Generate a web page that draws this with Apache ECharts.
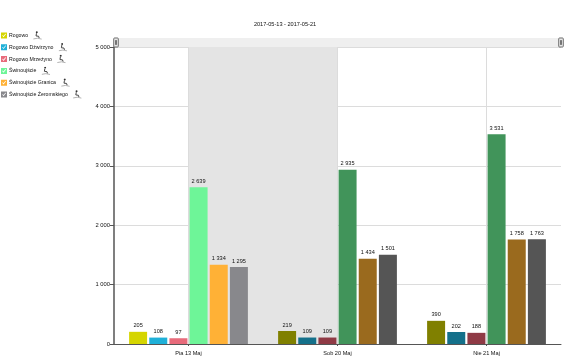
<!DOCTYPE html>
<html>
<head>
<meta charset="utf-8">
<style>
html, body { margin: 0; padding: 0; background: #fff; }
#chart { width: 570px; height: 357px; }
</style>
<script src="https://cdn.jsdelivr.net/npm/echarts@6/dist/echarts.min.js"></script>
</head>
<body>
<div id="chart"></div>
<script>
var titleText = '2017-05-13 - 2017-05-21';
var days = ['Pia 13 Maj', 'Sob 20 Maj', 'Nie 21 Maj'];
var names = ['Rogowo', 'Rogowo Dźwirzyno', 'Rogowo Mrzeżyno', 'Świnoujście', 'Świnoujście Granica', 'Świnoujście Żeromskiego'];

var rogowo = [205, 219, 390];
var dzwirzyno = [108, 109, 202];
var mrzezyno = [97, 109, 188];
var swinoujscie = [2639, 2935, 3531];
var granica = [1334, 1434, 1758];
var zeromskiego = [1295, 1501, 1763];
var values = [rogowo, dzwirzyno, mrzezyno, swinoujscie, granica, zeromskiego];

// pierwszy dzien jasny, weekend ciemniejszy
var lightColors = ['#d5d500', '#1fb0d8', '#e86b7b', '#6ef598', '#ffb136', '#88888c'];
var darkColors = ['#808000', '#14708a', '#8f3a45', '#41945a', '#9a6a1e', '#555555'];

var fontName = '"Liberation Sans", Arial, sans-serif';
var textColor = '#111';

function spaced(v) {
	return String(v).replace(/\B(?=(\d{3})+$)/g, ' ');
}

// ikonka rowerzysty w legendzie
var cyclist = 'data:image/svg+xml;charset=utf-8,' + encodeURIComponent(
	'<svg xmlns="http://www.w3.org/2000/svg" width="12" height="12" viewBox="0 0 12 12">' +
	'<circle cx="5" cy="1.6" r="1.3" fill="#333"/>' +
	'<path d="M4.6 3 L4 6.6 L7.4 7 L8.2 9.4" fill="none" stroke="#333" stroke-width="1.2"/>' +
	'<path d="M0.5 10.6 Q6 8.6 11.5 10.8" fill="none" stroke="#999" stroke-width="1"/>' +
	'</svg>');

var series = names.map(function (name, s) {
	return {
		name: name,
		type: 'bar',
		barWidth: 18,
		barGap: '12%',
		itemStyle: { color: lightColors[s] },
		label: {
			show: true,
			position: 'top',
			distance: 3,
			fontSize: 5.6,
			fontFamily: fontName,
			color: textColor,
			formatter: function (p) { return spaced(p.value); }
		},
		data: values[s].map(function (v, d) {
			return { value: v, itemStyle: { color: d === 0 ? lightColors[s] : darkColors[s] } };
		})
	};
});

var option = {
	animation: false,
	backgroundColor: '#fff',
	title: {
		text: titleText,
		left: 280,
		top: 16,
		textAlign: 'center',
		textStyle: { fontSize: 5.6, fontWeight: 'normal', color: textColor, fontFamily: fontName }
	},
	legend: {
		orient: 'vertical',
		left: 1,
		top: 31,
		padding: 0,
		itemWidth: 6,
		itemHeight: 6,
		itemGap: 2.8,
		selectedMode: false,
		// kwadrat z wycietym ptaszkiem
		icon: 'path://M0 0H10V10H0ZM2 5L4.2 8L8.4 2.6L7.2 2L4.2 6L3 4.4Z',
		formatter: function (name) { return '{t|' + name + '}{i|}'; },
		textStyle: {
			fontSize: 5.2,
			fontFamily: fontName,
			color: textColor,
			rich: {
				t: { fontSize: 5.2, fontFamily: fontName, color: textColor, padding: [0, 5, 0, -3] },
				i: { width: 9, height: 9, backgroundColor: { image: cyclist } }
			}
		},
		data: names
	},
	grid: { left: 114, right: 9, top: 47, bottom: 13 },
	dataZoom: [{
		type: 'slider',
		xAxisIndex: 0,
		left: 114,
		right: 9,
		top: 38,
		height: 9,
		backgroundColor: '#efefef',
		borderColor: 'transparent',
		fillerColor: 'rgba(0,0,0,0)',
		showDetail: false,
		showDataShadow: false,
		brushSelect: false,
		moveHandleSize: 0,
		handleIcon: 'path://M1 0H5Q6 0 6 1V11Q6 12 5 12H1Q0 12 0 11V1Q0 0 1 0ZM2.5 3V9H3.5V3Z',
		handleSize: 9,
		handleStyle: { color: '#f4f4f4', borderColor: '#666', borderWidth: 1 }
	}],
	xAxis: {
		type: 'category',
		data: days,
		axisLine: { lineStyle: { color: '#555', width: 1 } },
		axisTick: { show: true, alignWithLabel: true, length: 2, lineStyle: { color: '#555' } },
		axisLabel: { fontSize: 5.6, fontFamily: fontName, color: textColor, margin: 6 },
		splitLine: { show: true, alignWithLabel: true, lineStyle: { color: '#dcdcdc' } },
		splitArea: { show: true, alignWithLabel: true, areaStyle: { color: ['#e4e4e4', 'rgba(0,0,0,0)'] } }
	},
	yAxis: {
		type: 'value',
		min: 0,
		max: 5000,
		interval: 1000,
		axisLine: { show: true, lineStyle: { color: '#555', width: 1.5 } },
		axisTick: { show: true, length: 4, lineStyle: { color: '#555' } },
		axisLabel: {
			fontSize: 5.8,
			fontFamily: fontName,
			color: textColor,
			margin: 4,
			formatter: function (v) { return spaced(v); }
		},
		splitLine: { show: true, lineStyle: { color: '#dcdcdc' } }
	},
	series: series
};

var chart = echarts.init(document.getElementById('chart'), null, { renderer: 'canvas' });
chart.setOption(option);
</script>
</body>
</html>
